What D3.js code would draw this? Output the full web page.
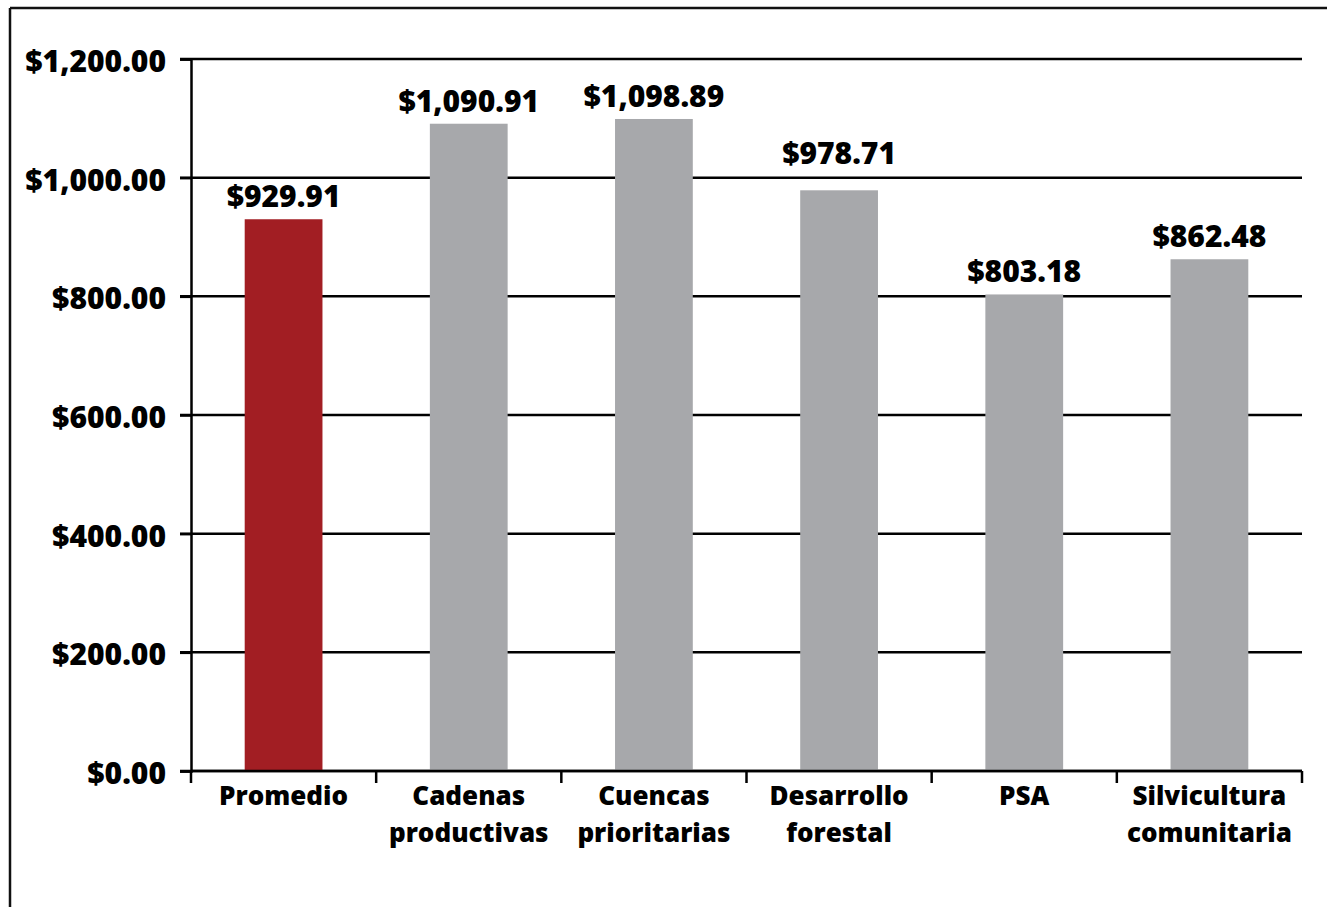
<!DOCTYPE html>
<html>
<head>
<meta charset="utf-8">
<script src="https://cdn.jsdelivr.net/npm/d3@7"></script>
<style>
  body { margin: 0; background: #fff; }
  svg text { font-family: "Open Sans", "Lato", sans-serif; font-weight: 800; fill: #000; }
</style>
</head>
<body>
<svg id="chart" width="1327" height="907"></svg>
<script>
// data
var categorias = ["Promedio", "Cadenas productivas", "Cuencas prioritarias", "Desarrollo forestal", "PSA", "Silvicultura comunitaria"];
var etiquetas = [["Promedio"], ["Cadenas", "productivas"], ["Cuencas", "prioritarias"], ["Desarrollo", "forestal"], ["PSA"], ["Silvicultura", "comunitaria"]];
var valores = [929.91, 1090.91, 1098.89, 978.71, 803.18, 862.48];
var colores = ["#a21e23", "#a7a8ab", "#a7a8ab", "#a7a8ab", "#a7a8ab", "#a7a8ab"];
var ticksY = [0, 200, 400, 600, 800, 1000, 1200];

var svg = d3.select("svg");

// outer frame (only top and left show)
svg.append("line").attr("x1", 10).attr("x2", 1327).attr("y1", 8).attr("y2", 8)
    .attr("stroke", "#111").attr("stroke-width", 2.5);
svg.append("line").attr("x1", 10).attr("x2", 10).attr("y1", 8).attr("y2", 907)
    .attr("stroke", "#111").attr("stroke-width", 2.5);

var x0 = 191, x1 = 1302, y0 = 771, y1 = 59;

var x = d3.scaleBand()
    .domain(categorias)
    .range([x0, x1])
    .paddingInner(0.58)
    .paddingOuter(0.29);

var y = d3.scaleLinear()
    .domain([0, 1200])
    .range([y0, y1]);

var fmt = d3.format("$,.2f");

// gridlines
svg.append("g")
  .selectAll("line")
  .data(ticksY)
  .enter().append("line")
    .attr("x1", x0 - 11)
    .attr("x2", x1)
    .attr("y1", function(d) { return y(d); })
    .attr("y2", function(d) { return y(d); })
    .attr("stroke", "#000")
    .attr("stroke-width", 2.5);

// y axis
var yAxis = svg.append("g")
    .attr("transform", "translate(" + x0 + ",0)")
    .call(d3.axisLeft(y).tickValues(ticksY).tickFormat(fmt).tickSize(11).tickPadding(14));
yAxis.select(".domain").attr("stroke", "#000").attr("stroke-width", 2.5);
yAxis.selectAll(".tick line").attr("stroke", "#000").attr("stroke-width", 2.5);
yAxis.selectAll("text").style("font-size", "30px").attr("dy", "0.42em");

// bars
svg.append("g")
  .selectAll("rect")
  .data(valores)
  .enter().append("rect")
    .attr("x", function(d, i) { return x(categorias[i]); })
    .attr("y", function(d) { return y(d); })
    .attr("width", x.bandwidth())
    .attr("height", function(d) { return y0 - y(d); })
    .attr("fill", function(d, i) { return colores[i]; });

// x axis line and ticks at category edges
svg.append("line").attr("x1", x0).attr("x2", x1).attr("y1", y0).attr("y2", y0)
    .attr("stroke", "#000").attr("stroke-width", 2.5);
var bordes = d3.range(categorias.length + 1).map(function(i) { return x0 + i * x.step(); });
svg.append("g")
  .selectAll("line")
  .data(bordes)
  .enter().append("line")
    .attr("x1", function(d) { return d; })
    .attr("x2", function(d) { return d; })
    .attr("y1", y0)
    .attr("y2", y0 + 12)
    .attr("stroke", "#000")
    .attr("stroke-width", 2.5);

// category labels
var etq = svg.append("g")
  .selectAll("text")
  .data(etiquetas)
  .enter().append("text")
    .attr("text-anchor", "middle")
    .style("font-size", "26px")
    .attr("x", function(d, i) { return x(categorias[i]) + x.bandwidth() / 2; });
etq.selectAll("tspan")
  .data(function(d) { return d; })
  .enter().append("tspan")
    .attr("x", function() { return d3.select(this.parentNode).attr("x"); })
    .attr("y", function(d, i) { return 805 + i * 37; })
    .text(function(d) { return d; });

// value labels, pushed above a gridline when they would sit on it
function baseLabel(v) {
  var b = y(v) - 12;
  ticksY.forEach(function(t) {
    var g = y(t);
    if (g > b - 24 && g < b + 6) b = g - 14;
  });
  return b;
}
svg.append("g")
  .selectAll("text")
  .data(valores)
  .enter().append("text")
    .attr("text-anchor", "middle")
    .style("font-size", "30px")
    .attr("x", function(d, i) { return x(categorias[i]) + x.bandwidth() / 2; })
    .attr("y", baseLabel)
    .text(function(d) { return fmt(d); });
</script>
</body>
</html>
